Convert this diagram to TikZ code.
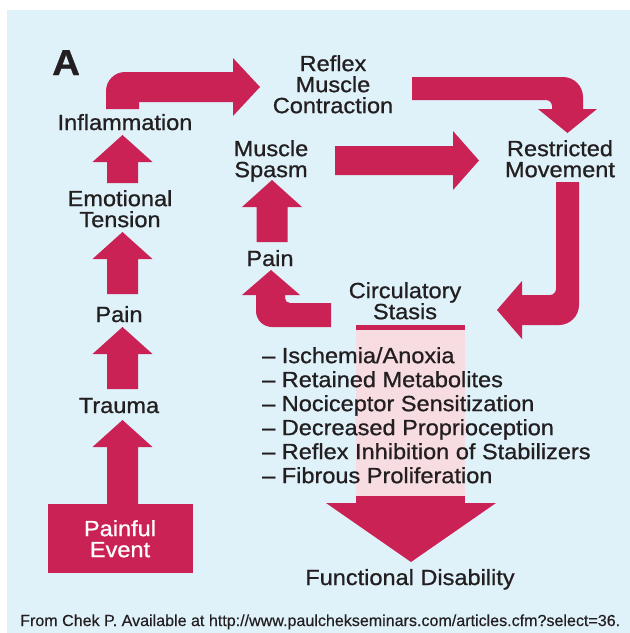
\documentclass[tikz,border=0pt]{standalone}
\usepackage{fontspec}
\usepackage{graphicx}
\setmainfont{Liberation Sans}[FakeStretch=1.07,FakeBold=0.9]
\newfontfamily\capfont{Liberation Sans}[FakeBold=0.4]
\definecolor{crim}{RGB}{203,34,86}
\definecolor{bgblue}{RGB}{223,242,250}
\definecolor{pinkcol}{RGB}{247,220,225}
\definecolor{txt}{RGB}{35,31,32}
\newcommand\blockup[3]{% center x, tip y, bottom y
  \fill[crim] ({#1-15.5},#3) -- ({#1-15.5},{#2+27}) -- ({#1-30},{#2+27}) -- (#1,#2)
    -- ({#1+30},{#2+27}) -- ({#1+15.5},{#2+27}) -- ({#1+15.5},#3) -- cycle;}
\begin{document}
\begin{tikzpicture}[x=1pt,y=-1pt,
  lbl/.style={inner sep=0pt,text=txt,font=\fontsize{22}{21}\selectfont,align=center},
  ]
\useasboundingbox (0,0) rectangle (630,633);
\fill[white] (0,0) rectangle (630,633);
\fill[bgblue] (7,10) rectangle (630,633);

% circulatory column
\fill[pinkcol] (356,330) rectangle (465,497);
\fill[crim] (356,325) rectangle (465,330);
\fill[crim] (356,496) rectangle (465,503.5);
\fill[crim] (326,503) -- (496,503) -- (411,562) -- cycle;

% left column arrows
\blockup{122.5}{135}{183}
\blockup{122.5}{232}{294}
\blockup{122.5}{327}{389}
\blockup{122.5}{420}{505}
\blockup{272}{180}{242}

% Painful event box
\fill[crim] (48,504) rectangle (193,573);

% Inflammation -> Reflex
\fill[crim] (106,109) -- (106,91) .. controls (106,80.5) and (114.5,72) .. (125,72)
  -- (233,72) -- (233,58) -- (260,87) -- (233,116) -- (233,102) -- (139,102) -- (139,109) -- cycle;
% Reflex -> Restricted
\fill[crim] (412,77) -- (563,77) .. controls (574,77) and (583,86) .. (583,97)
  -- (583,109) -- (597,109) -- (567.5,133) -- (538,109) -- (552,109) -- (552,106)
  .. controls (552,102.7) and (549.3,100) .. (546,100) -- (412,100) -- cycle;
% Muscle spasm -> Restricted
\fill[crim] (335,146) -- (453,146) -- (453,131) -- (479,160.5) -- (453,190) -- (453,175) -- (335,175) -- cycle;
% Restricted -> Circulatory
\fill[crim] (556,182) -- (579,182) -- (579,305) .. controls (579,316) and (570,325) .. (559,325)
  -- (522,325) -- (522,339) -- (497,310) -- (522,281) -- (522,295) -- (550,295)
  .. controls (553.3,295) and (556,292.3) .. (556,289) -- cycle;
% Circulatory -> Pain
\fill[crim] (331,303) -- (290,303) .. controls (287.2,303) and (285,300.8) .. (285,298)
  -- (285,295) -- (300,295) -- (271,270) -- (242,295) -- (256,295) -- (256,311)
  .. controls (256,319.8) and (263.2,327) .. (272,327) -- (331,327) -- cycle;

% texts
\node[inner sep=0pt,text=txt,anchor=base west,font=\fontsize{36}{36}\selectfont\bfseries] (A) at (52,75) {A};
\node[lbl,anchor=base] (infl) at (125,130) {Inflammation};
\node[lbl,anchor=north] (emo) at (120,190) {Emotional\\Tension};
\node[lbl,anchor=base] (painL) at (119,322) {Pain};
\node[lbl,anchor=base] (trauma) at (119,413) {Trauma};
\node[lbl,anchor=north,text=white] (event) at (120,520) {Painful\\Event};
\node[lbl,anchor=north] (reflex) at (333,55) {Reflex\\Muscle\\Contraction};
\node[lbl,anchor=north] (spasm) at (271,140) {Muscle\\Spasm};
\node[lbl,anchor=north] (restr) at (560,140) {Restricted\\Movement};
\node[lbl,anchor=base] (painR) at (270,266) {Pain};
\node[lbl,anchor=north] (circ) at (405,282) {Circulatory\\Stasis};
\node[lbl,anchor=north west,align=left,font=\fontsize{22}{24}\selectfont] (list) at (262,347)
  {– Ischemia/Anoxia\\– Retained Metabolites\\– Nociceptor Sensitization\\– Decreased Proprioception\\– Reflex Inhibition of Stabilizers\\– Fibrous Proliferation};
\node[lbl,anchor=base] (func) at (410,585) {Functional Disability};
\node[inner sep=0pt,text=txt,anchor=base west,font=\capfont\fontsize{16}{16}\selectfont] (cap) at (20,626)
  {\resizebox{600pt}{\height}{From Chek P. Available at http://www.paulchekseminars.com/articles.cfm?select=36.}};
\end{tikzpicture}
\end{document}
